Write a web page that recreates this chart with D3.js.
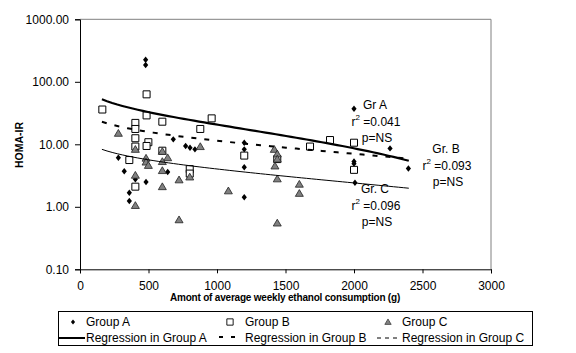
<!DOCTYPE html>
<html><head><meta charset="utf-8">
<script src="https://cdn.jsdelivr.net/npm/d3@7"></script>
<style>
html,body{margin:0;padding:0;background:#fff;}
svg{display:block;font-family:"Liberation Sans",Arial,sans-serif;}
</style></head>
<body><svg id="c" width="576" height="353"></svg>
<script>
// ---- data ----
const groupA = [[280,6.1],[323,3.7],[360,1.68],[360,1.24],[404,2.75],[482,2.5],[479,225],[479,186],[640,3.6],[681,12],[771,9.4],[803,8.8],[839,8.3],[1199,10.6],[1199,8.3],[1199,4.3],[1199,1.42],[2000,37],[2000,5.3],[2000,4.9],[2007,2.43],[2263,8.6],[2397,4.1]];
const groupB = [[163,36],[486,63],[486,29],[404,22],[404,17.6],[404,12.5],[404,9.2],[499,10.8],[486,9.4],[601,23],[961,26],[878,17.6],[601,7.9],[360,5.6],[404,2.1],[801,4.0],[801,3.4],[1199,6.6],[1440,5.8],[1679,9.2],[1825,11.7],[2000,10.6],[2000,3.9]];
const groupC = [[280,15],[404,8.3],[482,6.0],[482,5.2],[499,4.6],[601,7.7],[640,6.1],[601,5.3],[601,3.8],[404,3.2],[601,2.1],[723,2.7],[801,3.0],[878,9.2],[404,1.05],[723,0.62],[1083,1.8],[1418,8.3],[1440,7.0],[1440,5.8],[1423,4.5],[1440,2.8],[1601,2.3],[1601,1.64],[1440,0.55]];
// logarithmic trendlines y = a + b*ln(x), over [xFrom, xTo]
const trendA = {a:140.8, b:-17.39, xFrom:160, xTo:2400};
const trendB = {a:55.0, b:-6.31, xFrom:160, xTo:2400};
const trendC = {a:20.15, b:-2.334, xFrom:160, xTo:2400};
const xTicks = [0,500,1000,1500,2000,2500,3000];
const yTicks = [0.1,1,10,100,1000];
const annotations = [
  {name:"Gr A", r2:"0.041", p:"p=NS"},
  {name:"Gr. B", r2:"0.093", p:"p=NS"},
  {name:"Gr. C", r2:"0.096", p:"p=NS"}
];
const legendItems = ["Group A","Group B","Group C","Regression in Group A","Regression in Group B","Regression in Group C"];

// ---- drawing ----
const svg = d3.select("#c");
svg.append("rect").attr("width",576).attr("height",353).attr("fill","#fff");
const L=80, R=491, T=19.3, B=269.3;
const x = d3.scaleLinear().domain([0,3000]).range([L,R]);
const y = d3.scaleLog().domain([0.1,1000]).range([B,T]);

// frame (top & right grey)
svg.append("path").attr("d",`M${L},${T}H${R}V${B}`).attr("fill","none").attr("stroke","#808080").attr("stroke-width",1);

const fmt = d3.format(".2f");
const yAxis = svg.append("g").attr("transform",`translate(${L},0)`)
  .call(d3.axisLeft(y).tickValues(yTicks).tickFormat(fmt).tickSize(5).tickPadding(6));
const xAxis = svg.append("g").attr("transform",`translate(0,${B})`)
  .call(d3.axisBottom(x).tickValues(xTicks).tickFormat(d3.format("d")).tickSize(4).tickPadding(8));
[yAxis,xAxis].forEach(g=>{
  g.select(".domain").attr("stroke","#000");
  g.selectAll(".tick line").attr("stroke","#000");
  g.selectAll(".tick text").attr("font-size",12).attr("fill","#000").attr("font-family","Liberation Sans, Arial, sans-serif");
});

// titles
svg.append("text").attr("x",285).attr("y",301).attr("text-anchor","middle")
  .attr("font-size",10).attr("font-weight","bold").attr("letter-spacing",-0.2)
  .text("Amont of average weekly ethanol consumption (g)");
svg.append("text").attr("transform","translate(23,145) rotate(-90)").attr("text-anchor","middle")
  .attr("font-size",10.5).attr("font-weight","bold").text("HOMA-IR");

// markers
const diamond = "M0,-3.2L2.6,0L0,3.2L-2.6,0Z";
const square = "M-3.5,-3.5H3.5V3.5H-3.5Z";
const tri = "M0,-3.8L4,3H-4Z";
const plot = svg.append("g");
plot.selectAll(".a").data(groupA).join("path").attr("d",diamond)
  .attr("transform",d=>`translate(${x(d[0])},${y(d[1])})`).attr("fill","#000");
plot.selectAll(".b").data(groupB).join("path").attr("d",square)
  .attr("transform",d=>`translate(${x(d[0])},${y(d[1])})`).attr("fill","#fff").attr("stroke","#000").attr("stroke-width",1);
plot.selectAll(".c").data(groupC).join("path").attr("d",tri)
  .attr("transform",d=>`translate(${x(d[0])},${y(d[1])})`).attr("fill","#808080").attr("stroke","#222").attr("stroke-width",0.8);

// trendlines
function trendPts(t){
  const n=60, pts=[];
  for(let i=0;i<=n;i++){const xv=t.xFrom+(t.xTo-t.xFrom)*i/n; pts.push([xv,t.a+t.b*Math.log(xv)]);}
  return pts;
}
const line = d3.line().x(d=>x(d[0])).y(d=>y(d[1]));
plot.append("path").attr("d",line(trendPts(trendC))).attr("fill","none").attr("stroke","#000").attr("stroke-width",1);
plot.append("path").attr("d",line(trendPts(trendB))).attr("fill","none").attr("stroke","#000").attr("stroke-width",2).attr("stroke-dasharray","5,8");
plot.append("path").attr("d",line(trendPts(trendA))).attr("fill","none").attr("stroke","#000").attr("stroke-width",2.2);

// annotations
const annPos = [{x:375,y:109},{x:446,y:153},{x:375,y:193}];
annotations.forEach((a,i)=>{
  const p=annPos[i];
  const g=svg.append("g").attr("font-size",12).attr("fill","#000");
  g.append("text").attr("x",p.x).attr("y",p.y).attr("text-anchor","middle").text(a.name);
  const t=g.append("text").attr("x",p.x+1).attr("y",p.y+17).attr("text-anchor","middle");
  t.append("tspan").text("r");
  t.append("tspan").attr("dy",-6).attr("font-size",8).text("2");
  t.append("tspan").attr("dy",6).text(" =" + a.r2);
  g.append("text").attr("x",p.x+2).attr("y",p.y+33).attr("text-anchor","middle").text(a.p);
});

// legend
const lg = svg.append("g").attr("font-size",12);
lg.append("rect").attr("x",58.5).attr("y",311.5).attr("width",474).attr("height",34).attr("fill","#fff").attr("stroke","#000");
const colX=[86,245,402], row1=326, row2=342;
lg.append("path").attr("d",diamond).attr("transform",`translate(73,${row1-4}) scale(0.8)`).attr("fill","#000");
lg.append("path").attr("d",square).attr("transform",`translate(230,${row1-4}) scale(0.9)`).attr("fill","#fff").attr("stroke","#000");
lg.append("path").attr("d",tri).attr("transform",`translate(388,${row1-4}) scale(0.8)`).attr("fill","#808080").attr("stroke","#222").attr("stroke-width",0.8);
lg.append("line").attr("x1",59).attr("x2",85).attr("y1",row2-4).attr("y2",row2-4).attr("stroke","#000").attr("stroke-width",2);
lg.append("line").attr("x1",219).attr("x2",235).attr("y1",row2-5).attr("y2",row2-5).attr("stroke","#000").attr("stroke-width",2).attr("stroke-dasharray","4,8");
lg.append("line").attr("x1",377).attr("x2",400).attr("y1",row2-4).attr("y2",row2-4).attr("stroke","#000").attr("stroke-width",1).attr("stroke-dasharray","4,4");
legendItems.forEach((s,i)=>{
  lg.append("text").attr("x",colX[i%3]).attr("y",i<3?row1:row2).text(s);
});
</script></body></html>
